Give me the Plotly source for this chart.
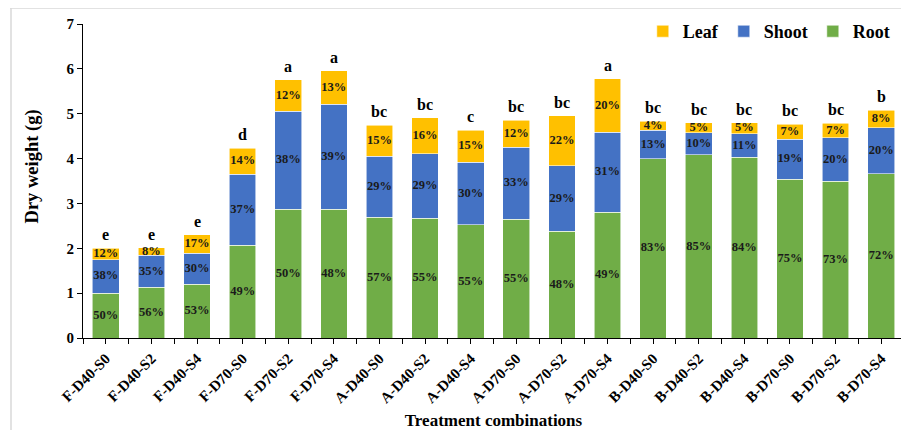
import plotly.graph_objects as go

categories = ["F-D40-S0", "F-D40-S2", "F-D40-S4", "F-D70-S0", "F-D70-S2", "F-D70-S4",
              "A-D40-S0", "A-D40-S2", "A-D40-S4", "A-D70-S0", "A-D70-S2", "A-D70-S4",
              "B-D40-S0", "B-D40-S2", "B-D40-S4", "B-D70-S0", "B-D70-S2", "B-D70-S4"]

root = [1.00, 1.13, 1.20, 2.07, 2.87, 2.87, 2.69, 2.67, 2.52, 2.65, 2.38, 2.80,
        4.00, 4.08, 4.03, 3.54, 3.50, 3.66]
shoot = [0.75, 0.71, 0.69, 1.58, 2.18, 2.34, 1.36, 1.44, 1.40, 1.60, 1.46, 1.79,
         0.63, 0.50, 0.52, 0.89, 0.96, 1.03]
leaf = [0.25, 0.17, 0.41, 0.58, 0.71, 0.75, 0.69, 0.80, 0.71, 0.60, 1.12, 1.19,
        0.20, 0.22, 0.25, 0.33, 0.33, 0.39]

root_pct = ["50%", "56%", "53%", "49%", "50%", "48%", "57%", "55%", "55%", "55%", "48%", "49%",
            "83%", "85%", "84%", "75%", "73%", "72%"]
shoot_pct = ["38%", "35%", "30%", "37%", "38%", "39%", "29%", "29%", "30%", "33%", "29%", "31%",
             "13%", "10%", "11%", "19%", "20%", "20%"]
leaf_pct = ["12%", "8%", "17%", "14%", "12%", "13%", "15%", "16%", "15%", "12%", "22%", "20%",
            "4%", "5%", "5%", "7%", "7%", "8%"]
letters = ["e", "e", "e", "d", "a", "a", "bc", "bc", "c", "bc", "bc", "a",
           "bc", "bc", "bc", "bc", "bc", "b"]

x = list(range(len(categories)))
serif = "Liberation Serif"
C_ROOT, C_SHOOT, C_LEAF = "#70AD47", "#4472C4", "#FFC000"

fig = go.Figure()
for name, vals, col in [("Root", root, C_ROOT), ("Shoot", shoot, C_SHOOT), ("Leaf", leaf, C_LEAF)]:
    fig.add_trace(go.Bar(x=x, y=vals, name=name,
                         marker=dict(color=col, line=dict(color="rgba(255,255,255,0.7)", width=0.8)),
                         hoverinfo="y+name"))

# segment midpoints for percentage labels
root_mid = [r / 2 for r in root]
shoot_mid = [r + s / 2 for r, s in zip(root, shoot)]
leaf_mid = [r + s + l / 2 for r, s, l in zip(root, shoot, leaf)]
totals = [r + s + l for r, s, l in zip(root, shoot, leaf)]

for mids, labels in [(root_mid, root_pct), (shoot_mid, shoot_pct), (leaf_mid, leaf_pct)]:
    fig.add_trace(go.Scatter(x=x, y=mids, mode="text", text=labels, showlegend=False,
                             textfont=dict(family=serif, size=12.5, color="#1a1a1a", weight="bold"),
                             textposition="middle center", hoverinfo="skip"))

annotations = [dict(x=xi, y=t, text=lt, showarrow=False, xanchor="center", yanchor="bottom", yshift=3,
                    font=dict(family=serif, size=16, color="black", weight="bold"))
               for xi, t, lt in zip(x, totals, letters)]
annotations.append(dict(xref="paper", yref="paper", x=-0.061, y=0.546, text="Dry weight (g)",
                        textangle=-90, showarrow=False, xanchor="center", yanchor="middle",
                        font=dict(family=serif, size=18.5, color="black", weight="bold")))

# page body has an 8px margin, so the figure is sized 8px smaller
fig.update_layout(
    width=901, height=422,
    margin=dict(l=75, r=5, t=16, b=92),
    paper_bgcolor="white", plot_bgcolor="white",
    barmode="stack", bargap=0.415,
    showlegend=True,
    legend=dict(orientation="h", x=0.99, xanchor="right", y=1.035, yanchor="top",
                traceorder="reversed", bgcolor="rgba(0,0,0,0)", itemwidth=30,
                font=dict(family=serif, size=18, color="black", weight="bold")),
    annotations=annotations,
    xaxis=dict(range=[-0.5, 17.5], tickmode="array", tickvals=x, ticktext=categories,
               tickangle=-45, showline=True, linecolor="black", linewidth=1, automargin=False,
               ticks="outside", ticklen=5, tickcolor="black", showgrid=False, zeroline=False,
               minor=dict(tickmode="array", tickvals=[i - 0.5 for i in range(len(categories) + 1)],
                          ticks="outside", ticklen=5, tickcolor="black", showgrid=False),
               tickfont=dict(family=serif, size=15, color="black", weight="bold"),
               title=dict(text="Treatment combinations", standoff=9,
                          font=dict(family=serif, size=17, color="black", weight="bold"))),
    yaxis=dict(range=[0, 7], dtick=1, showline=True, linecolor="black", linewidth=1, automargin=False,
               ticks="outside", ticklen=5, tickcolor="black", showgrid=False, zeroline=False,
               tickfont=dict(family=serif, size=15, color="black", weight="bold")),
    shapes=[
        dict(type="line", xref="paper", yref="paper", x0=-0.0889, x1=1.02, y0=1.051, y1=1.051,
             line=dict(color="#d9d9d9", width=1.5)),
        dict(type="line", xref="paper", yref="paper", x0=-0.0877, x1=-0.0877, y0=1.051, y1=-0.3,
             line=dict(color="#d9d9d9", width=1.5)),
    ],
)

fig.write_html("out.html")
